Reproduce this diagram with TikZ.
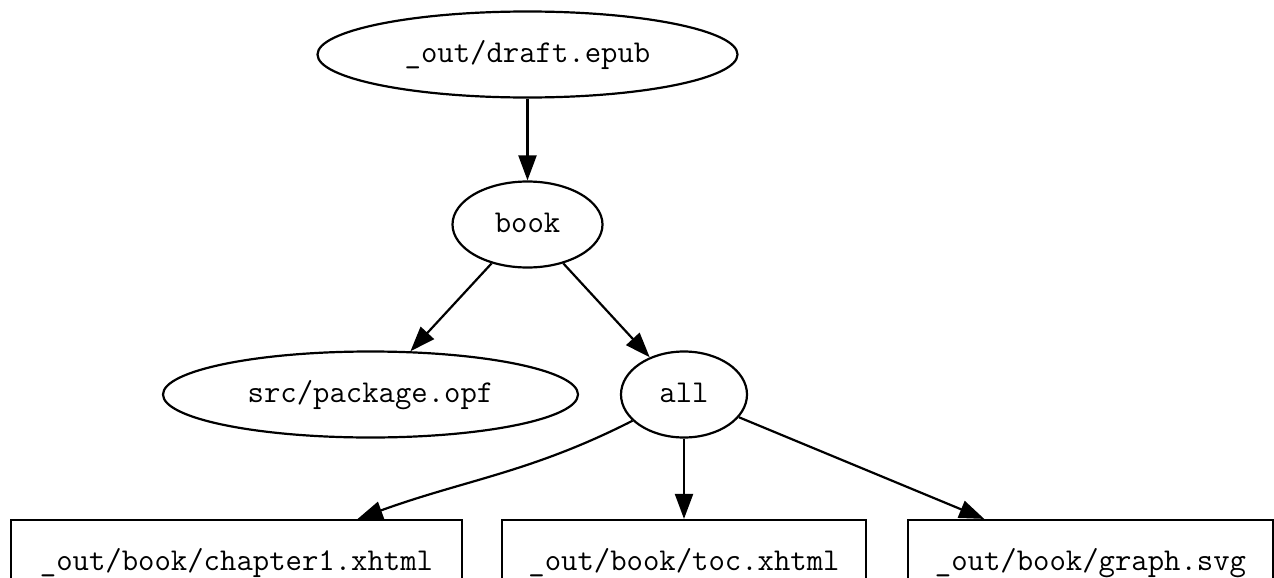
\documentclass[tikz,border=0pt]{standalone}
\usetikzlibrary{shapes.geometric,arrows.meta}

\begin{document}
\begin{tikzpicture}[x=0.5pt, y=-0.5pt, line width=1.1pt,
    every node/.style={font=\fontsize{15.9}{19}\selectfont\ttfamily,
        text height=9.5pt, text depth=1.6pt, inner sep=0pt},
    target/.style={draw, ellipse, minimum height=43pt},
    file/.style={draw, rectangle, minimum height=43pt},
    dep/.style={-{Triangle[length=12.5pt, width=9pt]}}]

    % Page frame (boxes at the bottom run off the edge)
    \useasboundingbox (0,0) rectangle (1274,578);
    \clip (0,0) rectangle (1274,578);

    % Targets
    \node[target, minimum width=210pt] (draft) at (527.5,54.5) {\_out/draft.epub};
    \node[target, minimum width=75pt] (book) at (527.5,224.5) {book};
    \node[target, minimum width=207.5pt] (package) at (370.5,394.5) {src/package.opf};
    \node[target, minimum width=63pt] (all) at (684,394.5) {all};

    % Output files
    \node[file, minimum width=225.5pt] (chapter) at (236.5,563) {\_out/book/chapter1.xhtml};
    \node[file, minimum width=182pt] (toc) at (684,563) {\_out/book/toc.xhtml};
    \node[file, minimum width=182.5pt] (graph) at (1090.5,563) {\_out/book/graph.svg};

    % Dependencies
    \draw[dep] (draft) -- (book);
    \draw[dep] (book) -- (package);
    \draw[dep] (book) -- (all);
    \draw[dep] (all) to[out=207, in=20] (chapter);
    \draw[dep] (all) -- (toc);
    \draw[dep] (all) -- (graph);

\end{tikzpicture}
\end{document}
